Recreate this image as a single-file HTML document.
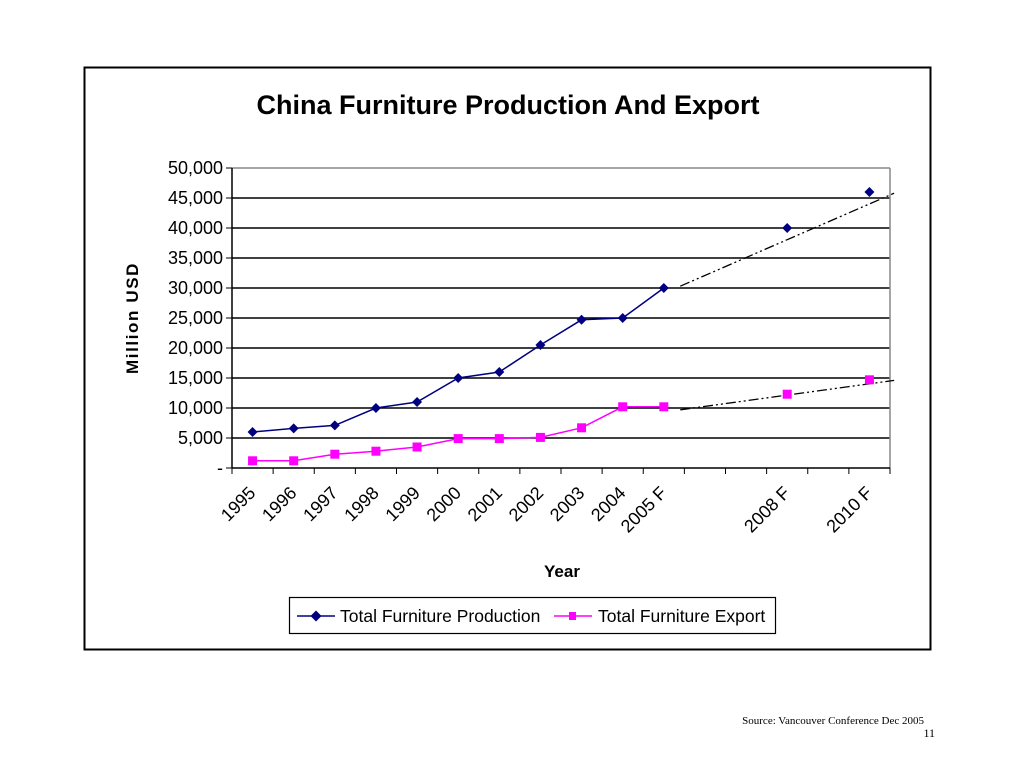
<!DOCTYPE html>
<html><head><meta charset="utf-8"><style>
body{margin:0;background:#fff;}
svg{display:block;font-family:"Liberation Sans",Arial,sans-serif;}
</style></head><body>
<svg id="c" width="1024" height="768" viewBox="0 0 1024 768">
<rect x="84.5" y="67.5" width="846" height="582" fill="#fff" stroke="#000" stroke-width="2"/>
<text x="508" y="114" text-anchor="middle" font-size="27" font-weight="bold">China Furniture Production And Export</text>
<text x="0" y="0" transform="translate(138,318) rotate(-90)" text-anchor="middle" font-size="17" font-weight="bold" letter-spacing="1.6">Million USD</text>
<text x="562" y="577" text-anchor="middle" font-size="17" font-weight="bold">Year</text>
<g id="grid"></g><g id="axes"></g><g id="trend"></g><g id="series"></g>
<g>
<rect x="289.5" y="597.5" width="486" height="36" fill="#fff" stroke="#000" stroke-width="1.2"/>
<g>
<line x1="297" y1="616" x2="335" y2="616" stroke="#000080" stroke-width="1.5"/>
<path d="M316 610.5 L321.5 616 L316 621.5 L310.5 616Z" fill="#000080"/>
<text x="340" y="622" font-size="17.5">Total Furniture Production</text></g>
<g>
<line x1="554" y1="616" x2="592" y2="616" stroke="#ff00ff" stroke-width="1.5"/>
<rect x="569" y="612" width="7" height="8" fill="#ff00ff"/>
<text x="598" y="622" font-size="17.5">Total Furniture Export</text></g>
</g>
<text x="924" y="724" text-anchor="end" font-size="11" font-family="Liberation Serif,serif">Source: Vancouver Conference Dec 2005</text>
<text x="935" y="737" text-anchor="end" font-size="12" font-family="Liberation Serif,serif">11</text>
</svg>
<script>
const categories=["1995","1996","1997","1998","1999","2000","2001","2002","2003","2004","2005 F","","","2008 F","","2010 F"];
const yTicks=[0,5000,10000,15000,20000,25000,30000,35000,40000,45000,50000];
const productionIdx=[0,1,2,3,4,5,6,7,8,9,10,13,15];
const productionVals=[6000,6600,7100,10000,11000,15000,16000,20500,24700,25000,30000,40000,46000];
const exportIdx=[0,1,2,3,4,5,6,7,8,9,10,13,15];
const exportVals=[1200,1200,2300,2800,3500,4900,4900,5100,6700,10200,10200,12300,14700];
const trendProd=[[10.9,30300],[16.1,45800]];
const trendExp=[[10.9,9700],[16.1,14600]];
const NS="http://www.w3.org/2000/svg";
const L=232,R=890,T=168,B=468,slot=(R-L)/categories.length;
const x=i=>L+(i+0.5)*slot, xe=i=>L+i*slot, y=v=>B-(v/50000)*(B-T);
function mk(tag,attrs,parent){const e=document.createElementNS(NS,tag);for(const k in attrs)e.setAttribute(k,attrs[k]);document.getElementById(parent).appendChild(e);return e;}
yTicks.forEach(v=>{
 if(v>0){const g=mk('line',{x1:L,x2:R,y1:y(v),y2:y(v),stroke:v===50000?'#888':'#000','stroke-width':v===50000?1.5:1.6},'grid');
 
 }
 const t=mk('line',{x1:L-6,x2:L,y1:y(v),y2:y(v),stroke:'#000'},'axes');
 
 
 const lb=mk('text',{x:L-9,y:y(v)+6,'text-anchor':'end','font-size':18},'axes');
 lb.textContent=v===0?'-':v.toLocaleString('en-US');
 
 
});
const rb=mk('line',{x1:R,x2:R,y1:T,y2:B,stroke:'#888','stroke-width':1.5},'axes');


const ya=mk('line',{x1:L,x2:L,y1:T,y2:B,stroke:'#000','stroke-width':1.5},'axes');


const xa=mk('line',{x1:L,x2:R,y1:B,y2:B,stroke:'#000','stroke-width':1.5},'axes');


for(let i=0;i<=categories.length;i++){const t=mk('line',{x1:xe(i),x2:xe(i),y1:B,y2:B+6,stroke:'#000'},'axes');
 
 }
categories.forEach((c,i)=>{if(!c)return;const px=x(i)+4,py=B+26;
 const t=mk('text',{x:px,y:py,'text-anchor':'end','font-size':18,transform:`rotate(-45 ${px} ${py})`},'axes');
 t.textContent=c;
 
 });
function trend(tp,name){const xt=i=>L+i*slot;
 const l=mk('line',{x1:xt(tp[0][0]),y1:y(tp[0][1]),x2:xt(tp[1][0]),y2:y(tp[1][1]),stroke:'#000','stroke-width':1.3,'stroke-dasharray':'10 3 2 3 2 3'},'trend');
 
 }
trend(trendProd,'production-trendline');trend(trendExp,'export-trendline');
function series(idx,vals,color,marker,name){
 const sol=idx.filter(i=>i<=10);
 const pts=sol.map((i,k)=>x(i)+','+y(vals[k])).join(' ');
 const pl=mk('polyline',{points:pts,fill:'none',stroke:color,'stroke-width':1.5},'series');
 
 
 idx.forEach((i,k)=>{const cx=x(i),cy=y(vals[k]);let m;
  if(marker==='d')m=mk('path',{d:`M${cx} ${cy-5}L${cx+5} ${cy}L${cx} ${cy+5}L${cx-5} ${cy}Z`,fill:color},'series');
  else m=mk('rect',{x:cx-4.5,y:cy-4.5,width:9,height:9,fill:color},'series');
  
  });
}
series(productionIdx,productionVals,'#000080','d','production');
series(exportIdx,exportVals,'#ff00ff','s','export');
</script>
</body></html>
